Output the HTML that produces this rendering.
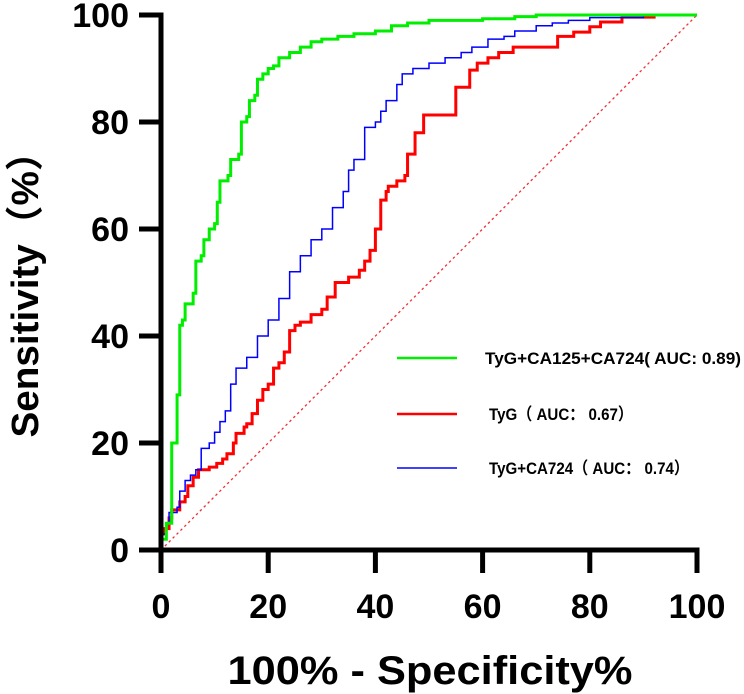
<!DOCTYPE html>
<html><head><meta charset="utf-8"><style>
html,body{margin:0;padding:0;background:#fff;}
svg{display:block;font-family:"Liberation Sans","Noto Sans CJK SC",sans-serif;}
</style></head><body>
<svg id="chart" width="744" height="694" viewBox="0 0 744 694" xmlns="http://www.w3.org/2000/svg">
<g id="marks"></g>
<g id="axes"></g>
<g id="legend"></g>
</svg>
<script>
const xTicks = [0, 20, 40, 60, 80, 100];
const yTicks = [0, 20, 40, 60, 80, 100];
const greenX = [0,0,1,1,2,2,3,3,3.5,4,4.5,6,6.5,7.5,8,9,10,10.5,11,12.5,13,14.5,15,16,16.5,17.5,18,19,20,21,22,24,26,28,30,33,36,40,43,46,50,60,66,70,100];
const greenY = [0,2,2,5,10,20,21,29,42,43,46,48,54,55,58,60,61,65,69,70,73,74,80,81,84,85,88,89,90,90.5,92,93,94,95,95.5,96,96.5,97,98,98.5,99,99.3,99.7,100,100];
const redX = [0,0,0.5,1.5,2,3.5,4.5,5,6,7,9,10.4,11.5,12.3,13.5,14,15.5,16,17,18,19,20,21,22,23,24,25,26,28,30,31,32.5,35,37,38,39,40,41,42,42.4,44,45.5,46,47.4,49,54.5,55,57.6,59,61,63,65.7,74,74,77,80,82,86,92,100];
const redY = [0,3,4,6,7.5,9,10,12,13.6,15,15.5,16.2,17,18,20,21.8,23,23.6,25.5,28,30,31,34,35,37,41,42,42.6,44,45,47.3,50,51,52.3,54,56,60,65.4,67,68,69,70,74,78,81.3,81.3,86.5,89.7,91,92,93,94,94.2,96,96.8,97.8,98.7,99.6,100,100];
const blueX = [0,0.3,1,1.5,3,3.5,4.5,5.5,6.5,7.5,9,10,11,12,13,14,16,18,20,22,24,26,28,30,32,34,35,36,38,40,41,42,44,45,47,50,53,56,58,61,64,66,70,73,76,80,90,100];
const blueY = [0,3,5,7,8,11,13,14,15,19,20,22,24,26,31,34,36,40,43,47,52,55,58,60,64,67,71,73,79,80,82,84,87,89,90,91,92,93,94,95.5,96,97,98,98.5,99,99.5,100,100];
const legendLabels = ["TyG+CA125+CA724(  AUC:  0.89)", "TyG（  AUC：  0.67）", "TyG+CA724（  AUC：  0.74）"];

const NS = "http://www.w3.org/2000/svg";
const X0 = 161, X1 = 697, Y0 = 550, Y1 = 15;
function sx(v){ return X0 + (X1 - X0) * v / 100; }
function sy(v){ return Y0 - (Y0 - Y1) * v / 100; }
function mk(tag, attrs, parent){ const e = document.createElementNS(NS, tag); for (const k in attrs) e.setAttribute(k, attrs[k]); parent.appendChild(e); return e; }

const marks = document.getElementById('marks');
const axes = document.getElementById('axes');
const legend = document.getElementById('legend');

const diag = mk('line', {x1: sx(0), y1: sy(0), x2: sx(100), y2: sy(100), stroke: '#f03030', 'stroke-width': 1.3, 'stroke-dasharray': '2.5,3'}, marks);



function stepPath(xs, ys){
  let d = 'M' + sx(xs[0]) + ' ' + sy(ys[0]);
  for (let i = 1; i < xs.length; i++){
    d += ' H' + sx(xs[i]) + ' V' + sy(ys[i]);
  }
  return d;
}
const series = [
  {xs: redX, ys: redY, c: '#ff0000', w: 3},
  {xs: blueX, ys: blueY, c: '#0000ff', w: 1.5},
  {xs: greenX, ys: greenY, c: '#00ee00', w: 3}
];
const names = ['tyg-roc-curve', 'tyg-ca724-roc-curve', 'tyg-ca125-ca724-roc-curve'];
series.forEach((s, i) => {
  const p = mk('path', {d: stepPath(s.xs, s.ys), fill: 'none', stroke: s.c, 'stroke-width': s.w, 'stroke-linejoin': 'miter'}, marks);
  
  
});

const ya = mk('line', {x1: X0, y1: Y1 - 2.5, x2: X0, y2: Y0 + 2.5, stroke: '#000', 'stroke-width': 5}, axes);


const xa = mk('line', {x1: X0 - 2.5, y1: Y0, x2: X1 + 2.5, y2: Y0, stroke: '#000', 'stroke-width': 5}, axes);



yTicks.forEach(v => {
  const t = mk('line', {x1: 139, y1: sy(v), x2: X0, y2: sy(v), stroke: '#000', 'stroke-width': 5}, axes);
  
  
  const l = mk('text', {x: 129, y: sy(v) + 12, 'text-anchor': 'end', 'font-size': 34, 'font-weight': 'bold'}, axes);
  l.textContent = v;
  
  
});
xTicks.forEach(v => {
  const t = mk('line', {x1: sx(v), y1: Y0, x2: sx(v), y2: 573, stroke: '#000', 'stroke-width': 5}, axes);
  
  
  const l = mk('text', {x: sx(v), y: 618, 'text-anchor': 'middle', 'font-size': 34, 'font-weight': 'bold'}, axes);
  l.textContent = v;
  
  
});

const xt = mk('text', {x: 430, y: 684, 'text-anchor': 'middle', 'font-size': 40, 'font-weight': 'bold', textLength: 405, lengthAdjust: 'spacingAndGlyphs'}, axes);
xt.textContent = '100% - Specificity%';



const yt = mk('text', {x: 0, y: 0, 'text-anchor': 'middle', 'font-size': 38, 'font-weight': 'bold', transform: 'translate(38,285) rotate(-90)', textLength: 305, lengthAdjust: 'spacingAndGlyphs'}, axes);
yt.textContent = 'Sensitivity（%）';



const legColors = ['#00ee00', '#ff0000', '#0000ff'];
const legY = [358, 414, 468];
const legTx = [485, 489, 489];
const legLen = [256, 144, 200];
const legNames = ['legend-entry-tyg-ca125-ca724', 'legend-entry-tyg', 'legend-entry-tyg-ca724'];
legendLabels.forEach((txt, i) => {
  const g = mk('g', {}, legend);
  
  
  mk('line', {x1: 397, y1: legY[i], x2: 457, y2: legY[i], stroke: legColors[i], 'stroke-width': i === 2 ? 1.5 : 2.5}, g);
  const t = mk('text', {x: legTx[i], y: legY[i] + 6, 'font-size': 17, 'font-weight': 'bold', textLength: legLen[i], lengthAdjust: 'spacingAndGlyphs'}, g);
  t.textContent = txt;
});
</script>
</body></html>
